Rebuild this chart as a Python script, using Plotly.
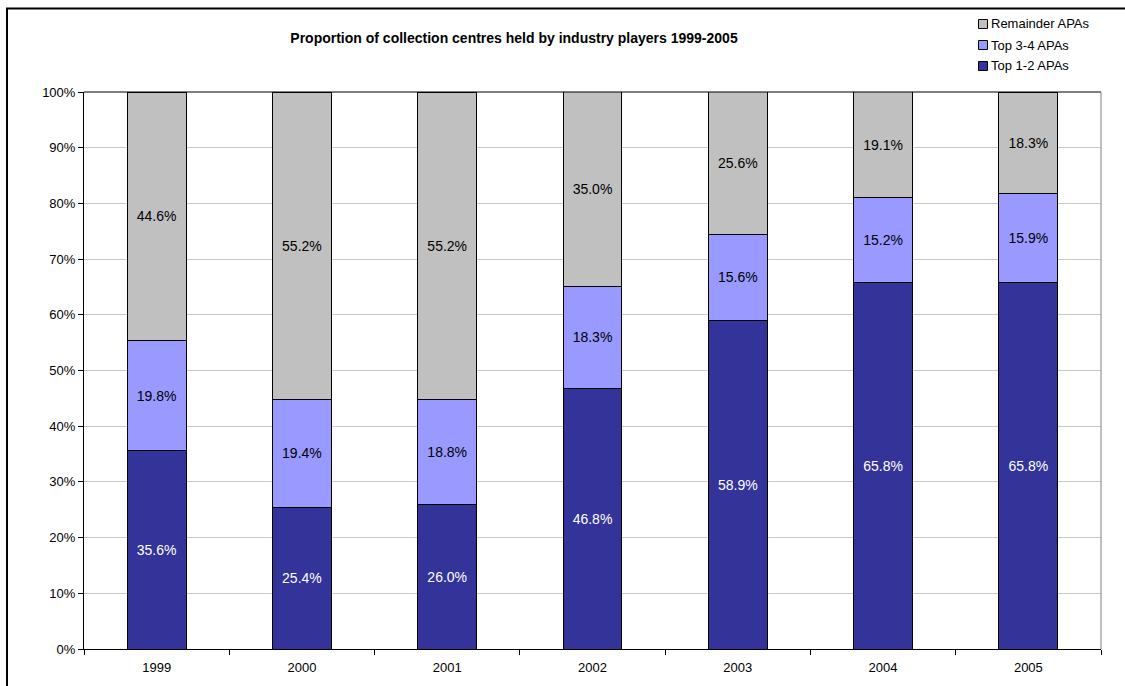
import plotly.graph_objects as go

years = ["1999", "2000", "2001", "2002", "2003", "2004", "2005"]
top_1_2 = [35.6, 25.4, 26.0, 46.8, 58.9, 65.8, 65.8]
top_3_4 = [19.8, 19.4, 18.8, 18.3, 15.6, 15.2, 15.9]
remainder = [44.6, 55.2, 55.2, 35.0, 25.6, 19.1, 18.3]

FONT = "Arial, Liberation Sans, sans-serif"

series = [
    ("Top 1-2 APAs", top_1_2, "#333399", "white"),
    ("Top 3-4 APAs", top_3_4, "#9999FF", "black"),
    ("Remainder APAs", remainder, "#C0C0C0", "black"),
]

fig = go.Figure()
for name, vals, color, txtcolor in series:
    fig.add_trace(go.Bar(
        name=name,
        x=years,
        y=vals,
        marker=dict(color=color, line=dict(color="black", width=1)),
        text=[f"{v:.1f}%" for v in vals],
        textposition="inside",
        insidetextanchor="middle",
        textangle=0,
        textfont=dict(family=FONT, size=14, color=txtcolor),
        hoverinfo="skip",
        showlegend=False,
    ))

W, H = 1125, 686
L, R, T, B = 84, 24, 92, 37
pw, ph = W - L - R, H - T - B


def px_x(x):
    return (x - L) / pw


def px_y(y):
    return (H - B - y) / ph


shapes = [
    # plot-area top and right frame
    dict(type="line", xref="paper", yref="paper", x0=0, x1=1, y0=1, y1=1,
         line=dict(color="black", width=1)),
    dict(type="line", xref="paper", yref="paper", x0=1, x1=1, y0=0, y1=1,
         line=dict(color="#808080", width=1)),
    # chart outer border
    dict(type="rect", xref="paper", yref="paper",
         x0=px_x(7), x1=px_x(1135), y0=px_y(8.5), y1=px_y(700),
         line=dict(color="black", width=2), layer="below"),
]
annotations = []

# legend box: top entry is the last (uppermost) stacked series
for i, (name, _vals, color, _tc) in enumerate(reversed(series)):
    cy = 24 + i * 21
    shapes.append(dict(
        type="rect", xref="paper", yref="paper",
        x0=px_x(978.5), x1=px_x(987.5), y0=px_y(cy + 4.5), y1=px_y(cy - 4.5),
        fillcolor=color, line=dict(color="black", width=1),
    ))
    annotations.append(dict(
        xref="paper", yref="paper", x=px_x(989), y=px_y(cy),
        xanchor="left", yanchor="middle", showarrow=False,
        text=name, font=dict(family=FONT, size=13, color="black"),
    ))

fig.update_layout(
    width=W, height=H,
    margin=dict(l=L, r=R, t=T, b=B),
    paper_bgcolor="white",
    plot_bgcolor="white",
    barmode="stack",
    bargap=0.595,
    showlegend=False,
    title=dict(
        text="<b>Proportion of collection centres held by industry players 1999-2005</b>",
        x=514 / W, y=1 - 38 / H, xref="container", yref="container",
        xanchor="center", yanchor="middle",
        font=dict(family=FONT, size=14, color="black"),
    ),
    xaxis=dict(
        type="category",
        tickson="boundaries",
        ticks="outside", ticklen=5, tickcolor="black",
        showline=True, linecolor="black", linewidth=1,
        showgrid=False,
        ticklabelstandoff=6,
        tickfont=dict(family=FONT, size=13, color="black"),
    ),
    yaxis=dict(
        range=[0, 100],
        dtick=10,
        ticksuffix="%",
        ticks="outside", ticklen=5, tickcolor="black",
        showline=True, linecolor="black", linewidth=1,
        showgrid=True, gridcolor="#C8C8C8", gridwidth=1,
        zeroline=False,
        tickfont=dict(family=FONT, size=13, color="black"),
    ),
    shapes=shapes,
    annotations=annotations,
)

fig.write_html("out.html")
